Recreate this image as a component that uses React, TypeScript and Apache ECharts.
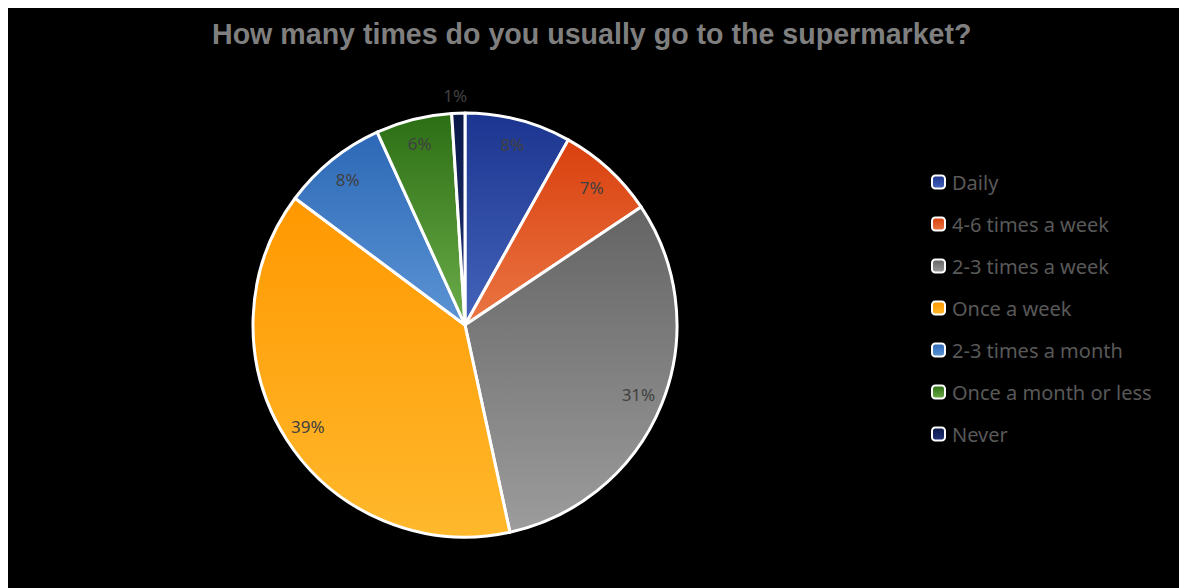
import React, { useEffect, useRef } from "react";
import * as echarts from "echarts";

const categories = [
  "Daily",
  "4-6 times a week",
  "2-3 times a week",
  "Once a week",
  "2-3 times a month",
  "Once a month or less",
  "Never",
];
const values = [8.1, 7.5, 31.0, 38.6, 8.0, 5.8, 1.0];
const topColors = ["#1c3590", "#d9400e", "#646464", "#ff9800", "#2c68b6", "#2c6e14", "#0a1848"];
const bottomColors = ["#4464ba", "#ea7644", "#9c9c9c", "#ffb82c", "#5c94d4", "#6cac4a", "#22347a"];
const titleText = "How many times do you usually go to the supermarket?";

function grad(i: number) {
  return new echarts.graphic.LinearGradient(0, 0, 0, 1, [
    { offset: 0, color: topColors[i] },
    { offset: 1, color: bottomColors[i] },
  ]);
}

export default function App() {
  const ref = useRef<HTMLDivElement>(null);
  useEffect(() => {
    document.documentElement.style.overflow = "hidden";
    const chart = echarts.init(ref.current!, null, { renderer: "svg" });
    const center = [457, 317];
    const mainData = categories.map((name, i) => ({
      name,
      value: values[i],
      itemStyle: { color: grad(i) },
    }));
    const labelData = categories.map((name, i) => ({
      name,
      value: values[i],
      label: i === 6 ? { offset: [-4, -43] } : {},
    }));
    chart.setOption({
      animation: false,
      backgroundColor: "#000000",
      title: {
        text: titleText,
        left: 199,
        top: 6,
        textStyle: {
          color: "#7f7f7f",
          fontSize: 28.6,
          fontWeight: "bold",
          fontFamily: "'Liberation Sans', Arial, sans-serif",
        },
      },
      legend: {
        orient: "vertical",
        left: 918,
        top: 159,
        itemWidth: 13,
        itemHeight: 13,
        itemGap: 22,
        icon: "roundRect",
        itemStyle: { borderColor: "#ffffff", borderWidth: 2 },
        textStyle: {
          color: "#595959",
          fontSize: 20,
          fontFamily: "'Noto Sans', sans-serif",
          padding: [0, 0, 0, 2],
        },
        data: categories,
      },
      series: [
        {
          type: "pie",
          center,
          radius: [0, 212],
          startAngle: 90,
          clockwise: true,
          percentPrecision: 0,
          label: { show: false },
          labelLine: { show: false },
          itemStyle: { borderColor: "#ffffff", borderWidth: 3 },
          emphasis: { disabled: true },
          data: mainData,
        },
        {
          type: "pie",
          center,
          radius: [156, 212],
          startAngle: 90,
          clockwise: true,
          percentPrecision: 0,
          silent: true,
          itemStyle: { color: "rgba(0,0,0,0)", borderWidth: 0 },
          label: {
            show: true,
            position: "inside",
            formatter: "{d}%",
            color: "#404040",
            fontSize: 17,
            fontFamily: "'Noto Sans', sans-serif",
          },
          labelLine: { show: false },
          emphasis: { disabled: true },
          data: labelData,
        },
      ],
    });
    return () => chart.dispose();
  }, []);
  return <div ref={ref} style={{ width: 1179, height: 580 }} />;
}
